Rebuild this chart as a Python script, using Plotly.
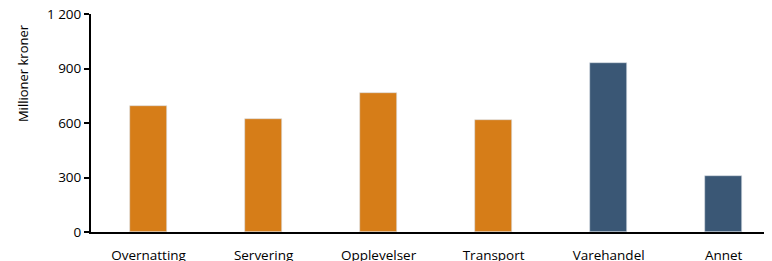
import plotly.graph_objects as go

categories = ["Overnatting", "Servering", "Opplevelser", "Transport", "Varehandel", "Annet"]
values = [695, 622, 765, 617, 932, 307]
bar_colors = ["#D67D18", "#D67D18", "#D67D18", "#D67D18", "#3A5775", "#3A5775"]
y_ticks = [0, 300, 600, 900, 1200]
y_tick_labels = ["0", "300", "600", "900", "1 200"]
y_title = "Millioner kroner"

fig = go.Figure(go.Bar(
    x=categories, y=values,
    marker=dict(color=bar_colors, line=dict(color="#D9DEE4", width=0.6)),
    width=0.32,
))

font_family = "Open Sans, Liberation Sans, sans-serif"
fig.update_layout(
    width=764, height=253,
    margin=dict(l=83, r=0, t=6, b=29, autoexpand=False),
    plot_bgcolor="white", paper_bgcolor="white",
    showlegend=False,
    font=dict(family=font_family, size=13.5, color="black"),
    bargap=0,
)
fig.update_xaxes(
    range=[-0.5, 5.42], automargin=False,
    showline=True, linecolor="black", linewidth=2,
    ticks="", showgrid=False, tickfont=dict(size=13.5),
    ticklabelstandoff=10, ticklabeloverflow="allow",
)
fig.update_yaxes(
    range=[0, 1200], tickvals=y_ticks, ticktext=y_tick_labels, automargin=False,
    showline=True, linecolor="black", linewidth=2,
    ticks="outside", ticklen=5, tickwidth=1.5, tickcolor="black",
    showgrid=False, zeroline=False, tickfont=dict(size=13.5),
    ticklabeloverflow="allow",
)
fig.add_annotation(
    text=y_title, textangle=-90, showarrow=False,
    xref="paper", yref="paper", x=0, y=0.729, xshift=-68,
    xanchor="center", yanchor="middle", font=dict(size=13),
)
fig.write_html("out.html")
